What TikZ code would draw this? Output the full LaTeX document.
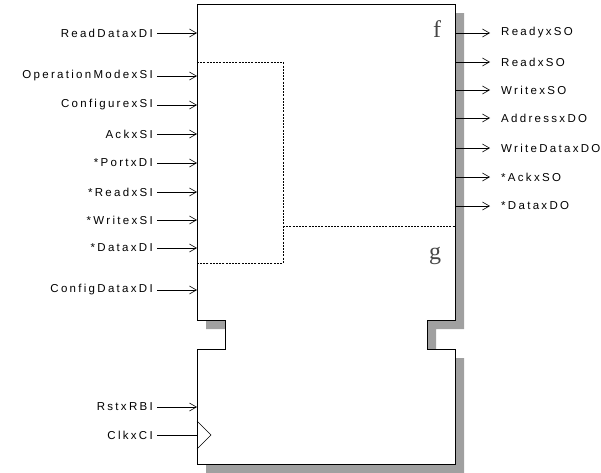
\documentclass[tikz,border=0pt]{standalone}
\usepackage{fontspec}
\setmainfont{Liberation Sans}
\newfontfamily\labfont[LetterSpace=20]{Liberation Sans}
\newfontfamily\serffont{Liberation Serif}
\usetikzlibrary{arrows.meta}
\definecolor{shadowgray}{RGB}{160,160,160}
\definecolor{fgtext}{RGB}{70,70,70}
\begin{document}
\begin{tikzpicture}[x=1pt,y=-1pt,
  lab/.style={font=\labfont\fontsize{11.5}{13}\selectfont, inner ysep=1pt, inner xsep=4pt},
  inl/.style={lab,anchor=east},
  outl/.style={lab,anchor=west},
  sig/.style={line width=0.6pt,-{Straight Barb[length=7pt,width=8pt,line width=0.6pt]}},
  body/.style={line width=0.8pt,fill=white},
  part/.style={line width=0.6pt,dash pattern=on 2pt off 1.2pt},
  fname/.style={font=\serffont\fontsize{24}{24}\selectfont, text=fgtext, inner sep=0pt}]
\useasboundingbox (0,0) rectangle (601,472);
% shadow
\fill[shadowgray] (206,13) -- (464,13) -- (464,329) -- (436,329) -- (436,358) -- (464,358)
  -- (464,473) -- (206,473) -- (206,358) -- (234,358) -- (234,329) -- (206,329) -- cycle;
% body
\draw[body] (197,4) -- (455,4) -- (455,320) -- (427,320) -- (427,349) -- (455,349)
  -- (455,464) -- (197,464) -- (197,349) -- (225,349) -- (225,320) -- (197,320) -- cycle;
% partitions
\draw[part] (197,62) -- (283,62) -- (283,263) -- (197,263);
\draw[part] (283,226) -- (455,226);
% function names
\node[fname, anchor=base] (f) at (437,37) {f};
\node[fname, anchor=base] (g) at (435,259) {g};
% clock
\draw[line width=0.6pt] (197,421) -- (211,435) -- (197,449);
% inputs
\foreach \n/\y/\t in {i1/33/ReadDataxDI, i2/76/OperationModexSI, i3/105/ConfigurexSI,
   i4/134/AckxSI, i5/163/*PortxDI, i6/192/*ReadxSI, i7/220/*WritexSI, i8/248/*DataxDI,
   i9/290/ConfigDataxDI, i10/407/RstxRBI}{
  \coordinate (p\n) at (197,\y);
  \node[inl] (\n) at (157,\y) {\t};
  \draw[sig] (\n.east) -- (p\n);
}
\coordinate (pclk) at (197,435);
\node[inl] (clk) at (157,435) {ClkxCI};
\draw[line width=0.6pt] (clk.east) -- (pclk);
% outputs
\foreach \n/\y/\t in {o1/33/ReadyxSO, o2/62/ReadxSO, o3/90/WritexSO, o4/118/AddressxDO,
   o5/148/WriteDataxDO, o6/177/*AckxSO, o7/206/*DataxDO}{
  \coordinate (p\n) at (455,\y);
  \node[outl] (\n) at (497,\y) {\t};
  \draw[sig] (p\n) -- ([xshift=-7pt]\n.west);
}
\end{tikzpicture}
\end{document}
